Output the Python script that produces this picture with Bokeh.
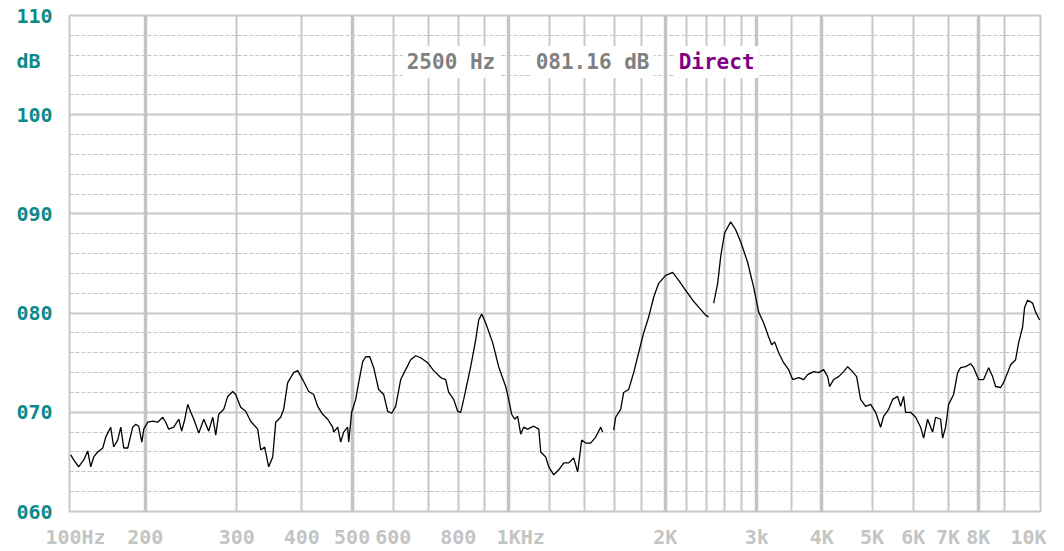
from bokeh.plotting import figure
from bokeh.models import FixedTicker, Grid, Label, CustomJSTickFormatter, Range1d, BoxAnnotation
from bokeh.embed import file_html
from bokeh.resources import INLINE

NaN = float("nan")

# ---- data (frequency in Hz, level in dB) ----
freq_hz = [
    143.8, 145.7, 148.9, 152.3, 155.0, 157.1, 159.2, 162.0, 165.7, 167.9,
    171.6, 173.9, 177.0, 179.5, 181.8, 185.1, 189.2, 191.8, 194.3, 197.0,
    198.7, 202.2, 206.8, 211.3, 216.1, 219.0, 221.9, 226.9, 232.0, 235.0,
    238.3, 241.4, 244.7, 248.0, 253.5, 259.2, 264.9, 269.7, 273.3, 276.9,
    283.1, 288.2, 294.6, 298.5, 305.2, 312.0, 319.0, 329.1, 333.5, 339.4,
    345.5, 351.7, 356.4, 364.3, 369.2, 375.8, 385.9, 392.8, 401.6, 412.4,
    421.7, 429.2, 438.8, 448.6, 458.7, 460.7, 469.0, 475.3, 481.6, 490.2,
    492.4, 499.0, 507.9, 514.7, 523.9, 530.9, 540.4, 550.0, 562.3, 574.9,
    585.2, 595.7, 606.3, 619.9, 633.8, 647.9, 662.5, 677.3, 698.6, 717.4,
    740.0, 756.6, 766.7, 783.9, 797.9, 808.6, 819.4, 845.2, 864.1, 875.7,
    887.4, 903.3, 931.8, 956.7, 986.8, 1000.0, 1013.4, 1026.9, 1040.7, 1054.6,
    1068.7, 1087.7, 1117.4, 1142.5, 1152.7, 1178.5, 1194.2, 1221.1, 1248.4, 1276.4,
    1305.0, 1333.5, 1357.4, 1381.6, 1406.3, 1437.8, 1470.0, 1503.0, 1516.3, 1550.0,
    1592.0, 1606.2, 1642.2, 1664.2, 1701.4, 1739.5, 1778.3, 1818.1, 1858.9, 1900.5,
    1943.2, 2004.4, 2067.5, 2123.2, 2190.0, 2259.0, 2319.8, 2392.8, 2424.8, 2450.0,
    2479.1, 2523.5, 2557.2, 2602.9, 2672.9, 2732.8, 2794.0, 2882.0, 2959.7, 2985.4,
    3025.9, 3093.7, 3162.3, 3204.6, 3247.5, 3305.5, 3379.5, 3455.2, 3517.0, 3611.7,
    3692.5, 3758.4, 3859.6, 3946.0, 4034.3, 4106.4, 4142.9, 4217.0, 4311.4, 4407.9,
    4486.7, 4587.1, 4669.0, 4752.6, 4859.0, 4967.8, 5079.0, 5192.8, 5262.2, 5380.0,
    5476.1, 5598.7, 5673.6, 5749.5, 5800.6, 5930.6, 6063.4, 6199.1, 6281.9, 6394.1,
    6537.4, 6624.8, 6773.0, 6833.2, 6924.6, 7017.2, 7174.2, 7302.5, 7400.1, 7566.0,
    7735.2, 7838.6, 8014.2, 8193.6, 8377.0, 8526.6, 8640.6, 8834.1, 8951.7, 9112.9,
    9234.6, 9440.6, 9566.7, 9738.2, 9825.0, 9955.9, 10179.0, 10315.0, 10499.0,
]
level_db = [
    65.7, 65.2, 64.5, 65.2, 66.1, 64.5, 65.5, 66.0, 66.4, 67.5,
    68.5, 66.5, 67.2, 68.5, 66.4, 66.4, 68.5, 68.8, 68.6, 67.0,
    68.3, 69.0, 69.1, 69.0, 69.5, 69.0, 68.3, 68.5, 69.3, 68.1,
    69.3, 70.8, 70.0, 69.3, 67.9, 69.3, 68.1, 69.5, 67.7, 69.8,
    70.3, 71.6, 72.1, 71.8, 70.5, 70.1, 69.1, 68.3, 66.2, 66.5,
    64.5, 65.5, 69.0, 69.5, 70.3, 73.0, 74.0, 74.2, 73.3, 72.1,
    71.8, 70.6, 69.8, 69.3, 68.5, 68.0, 68.5, 67.0, 68.0, 68.5,
    67.0, 70.0, 71.3, 73.0, 75.1, 75.6, 75.6, 74.5, 72.3, 71.8,
    70.1, 69.9, 70.6, 73.3, 74.3, 75.3, 75.7, 75.5, 75.0, 74.2,
    73.5, 73.3, 72.0, 71.3, 70.1, 70.0, 71.3, 74.6, 77.3, 79.3,
    79.9, 79.0, 77.0, 74.6, 72.6, 71.3, 69.8, 69.3, 69.6, 67.8,
    68.5, 68.3, 68.6, 68.3, 66.0, 65.5, 64.5, 63.7, 64.2, 64.9,
    64.9, 65.4, 64.0, 67.2, 66.9, 66.9, 67.5, 68.5, 68.0, NaN,
    68.2, 69.5, 70.3, 72.0, 72.3, 74.0, 76.0, 78.0, 79.6, 81.6,
    83.0, 83.8, 84.1, 83.3, 82.3, 81.3, 80.6, 79.8, 79.6, NaN,
    81.0, 83.0, 85.7, 88.1, 89.2, 88.4, 87.2, 85.1, 82.6, 81.6,
    80.1, 79.0, 77.6, 76.8, 77.1, 76.0, 75.0, 74.3, 73.3, 73.5,
    73.3, 73.8, 74.1, 74.0, 74.3, 73.6, 72.6, 73.3, 73.6, 74.1,
    74.6, 74.1, 73.6, 71.3, 70.6, 70.8, 70.0, 68.5, 69.6, 70.3,
    71.3, 71.6, 70.6, 71.6, 70.0, 70.0, 69.5, 68.5, 67.4, 69.3,
    68.0, 69.5, 69.3, 67.4, 68.5, 70.8, 71.8, 74.0, 74.5, 74.6,
    74.9, 74.5, 73.3, 73.3, 74.5, 73.6, 72.6, 72.5, 73.0, 74.0,
    74.8, 75.3, 77.0, 78.6, 80.6, 81.3, 81.0, 80.1, 79.3,
]

# axis ticks and labels
x_tick_hz = [143, 200, 300, 400, 500, 600, 800, 1000, 2000, 3000, 4000,
             5000, 6000, 7000, 8000, 10000]
x_tick_labels = ["\u00a0100Hz", "200", "300", "400", "500", "600", "800",
                 "\u00a0\u00a01KHz", "2K", "3k", "4K", "5K", "6K", "7K", "8K", "10K"]
y_tick_db = [60, 70, 80, 90, 100, 105.4, 110]
y_tick_labels = ["060", "070", "080", "090", "100", "dB\u00a0", "110"]

# grid positions
major_grid_hz = [200, 500, 1000, 2000, 3000, 4000, 8000]
minor_grid_hz = [300, 400, 600, 700, 800, 900, 1200, 1400, 1600, 1800,
                 2200, 2400, 2600, 2800, 3500, 5000, 6000, 7000, 9000]
solid_grid_db = [70, 80, 90, 100]
dashed_grid_db = [d for d in range(62, 110, 2) if d % 10 != 0]

# readout texts
readout_freq = "2500 Hz"
readout_level = "081.16 dB"
readout_mode = "Direct"

FONT = "DejaVu Sans Mono"
GRID = "#c8c8c8"

p = figure(width=1060, height=551, x_axis_type="log",
           x_range=Range1d(143, 10541), y_range=Range1d(60, 110),
           output_backend="svg", toolbar_location=None,
           min_border_left=69, min_border_right=20,
           min_border_top=15, min_border_bottom=39,
           background_fill_color="white", border_fill_color="white")
p.xgrid.visible = False
p.ygrid.visible = False
p.outline_line_color = GRID
p.outline_line_width = 2

p.add_layout(Grid(dimension=1, ticker=FixedTicker(ticks=dashed_grid_db),
                  grid_line_color="#c4c4c4", grid_line_width=1.2,
                  grid_line_dash="4 2"))
p.add_layout(Grid(dimension=1, ticker=FixedTicker(ticks=solid_grid_db),
                  grid_line_color=GRID, grid_line_width=2))
p.add_layout(Grid(dimension=0, ticker=FixedTicker(ticks=minor_grid_hz),
                  grid_line_color=GRID, grid_line_width=2))
p.add_layout(Grid(dimension=0, ticker=FixedTicker(ticks=major_grid_hz),
                  grid_line_color="#c4c4c4", grid_line_width=3.5))

p.line(freq_hz, level_db, line_color="black", line_width=1.3)

# axes
for ax in (p.xaxis[0], p.yaxis[0]):
    ax.axis_line_color = None
    ax.major_tick_line_color = None
    ax.minor_tick_line_color = None
    ax.major_tick_out = 0
    ax.major_tick_in = 0
    ax.minor_tick_out = 0
    ax.minor_tick_in = 0
    ax.major_label_text_font = FONT
    ax.major_label_text_font_style = "bold"
    ax.major_label_text_font_size = "20px"

p.xaxis.ticker = FixedTicker(ticks=x_tick_hz)
p.xaxis.formatter = CustomJSTickFormatter(args=dict(labels=x_tick_labels, vals=x_tick_hz),
    code="const i = vals.indexOf(tick); return i >= 0 ? labels[i] : '';")
p.xaxis.major_label_text_color = "#c4c4c4"
p.xaxis.major_label_standoff = 13

p.yaxis.ticker = FixedTicker(ticks=y_tick_db)
p.yaxis.formatter = CustomJSTickFormatter(args=dict(labels=y_tick_labels, vals=y_tick_db),
    code="let b = 0; for (let i = 0; i < vals.length; i++) { if (Math.abs(vals[i] - tick) < 1e-6) b = i; } return labels[b];")
p.yaxis.major_label_text_color = "#0c8a8a"
p.yaxis.major_label_standoff = 17

# readout texts with white boxes
for txt, fx, col in [(readout_freq, 636.7, "#808080"),
                     (readout_level, 1127.0, "#808080"),
                     (readout_mode, 2123.1, "#800080")]:
    p.add_layout(Label(x=fx, y=105.32, text=txt, text_font=FONT,
                       text_font_style="bold", text_font_size="21px",
                       text_color=col, text_baseline="middle", text_align="left",
                       x_offset=-4,
                       background_fill_color="white", padding=4))

# thin blue window edge along the very top
p.add_layout(BoxAnnotation(left=0, right=1052, top=0, bottom=2,
                           left_units="canvas", right_units="canvas",
                           top_units="canvas", bottom_units="canvas",
                           fill_color="#3b5ca0", fill_alpha=1.0,
                           line_color=None, level="overlay"))

open("out.html", "w").write(file_html(p, INLINE))
